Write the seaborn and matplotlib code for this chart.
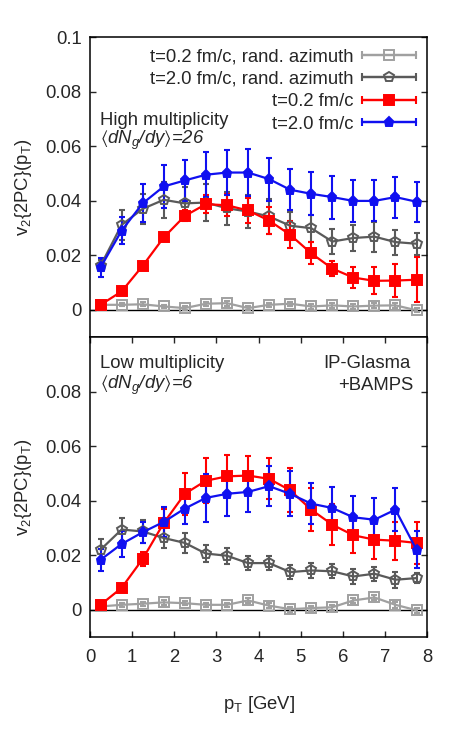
"""
v2{2PC}(pT) from IP-Glasma + BAMPS, high and low multiplicity panels.
"""

# %%
import matplotlib
matplotlib.use('Agg')
import matplotlib.pyplot as plt
from matplotlib.lines import Line2D
from matplotlib.legend_handler import HandlerLine2D
import numpy as np
import pandas as pd
import seaborn as sns

# %%
# Values
pt = [0.25, 0.75, 1.25, 1.75, 2.25, 2.75, 3.25, 3.75,
      4.25, 4.75, 5.25, 5.75, 6.25, 6.75, 7.25, 7.75]

# high multiplicity
high_rand02 = [0.0018, 0.0018, 0.0020, 0.0012, 0.0006, 0.0022, 0.0024, 0.0006,
               0.0018, 0.0022, 0.0012, 0.0016, 0.0012, 0.0015, 0.0016, -0.0002]
high_rand02_err = [0.0006, 0.0006, 0.0007, 0.0007, 0.0007, 0.0008, 0.0009, 0.0008,
                   0.0008, 0.0008, 0.0008, 0.0008, 0.0008, 0.0008, 0.0008, 0.0008]
high_rand20 = [0.0161, 0.0311, 0.0370, 0.0403, 0.0390, 0.0393, 0.0372, 0.0360,
               0.0342, 0.0308, 0.0299, 0.0250, 0.0263, 0.0268, 0.0248, 0.0242]
high_rand20_err = [0.0020, 0.0055, 0.0055, 0.0067, 0.0060, 0.0067, 0.0060, 0.0060,
                   0.0064, 0.0052, 0.0049, 0.0046, 0.0046, 0.0055, 0.0046, 0.0040]
high_t02 = [0.0018, 0.0067, 0.0161, 0.0265, 0.0344, 0.0387, 0.0383, 0.0364,
            0.0327, 0.0275, 0.0207, 0.0151, 0.0118, 0.0106, 0.0107, 0.0110]
high_t02_err = [0.0005, 0.0005, 0.0008, 0.0010, 0.0020, 0.0034, 0.0040, 0.0045,
                0.0050, 0.0049, 0.0040, 0.0026, 0.0038, 0.0049, 0.0062, 0.0083]
high_t20 = [0.0155, 0.0290, 0.0390, 0.0452, 0.0474, 0.0495, 0.0503, 0.0503,
            0.0479, 0.0440, 0.0425, 0.0413, 0.0399, 0.0399, 0.0413, 0.0396]
high_t20_err = [0.0034, 0.0049, 0.0070, 0.0079, 0.0076, 0.0082, 0.0084, 0.0085,
                0.0079, 0.0076, 0.0079, 0.0079, 0.0076, 0.0075, 0.0075, 0.0074]

# low multiplicity
low_rand02 = [0.0012, 0.0018, 0.0022, 0.0027, 0.0024, 0.0018, 0.0018, 0.0034,
              0.0015, 0.0002, 0.0006, 0.0009, 0.0034, 0.0045, 0.0018, -0.0002]
low_rand02_err = [0.0006, 0.0007, 0.0007, 0.0008, 0.0008, 0.0008, 0.0008, 0.0009,
                  0.0009, 0.0009, 0.0009, 0.0009, 0.0010, 0.0010, 0.0010, 0.0009]
low_rand20 = [0.0220, 0.0294, 0.0287, 0.0263, 0.0245, 0.0206, 0.0198, 0.0171,
              0.0171, 0.0138, 0.0144, 0.0141, 0.0122, 0.0132, 0.0110, 0.0116]
low_rand20_err = [0.0038, 0.0043, 0.0043, 0.0038, 0.0037, 0.0032, 0.0030, 0.0026,
                  0.0027, 0.0026, 0.0028, 0.0025, 0.0026, 0.0025, 0.0030, 0.0018]
low_t02 = [0.0018, 0.0080, 0.0186, 0.0318, 0.0425, 0.0473, 0.0489, 0.0492,
           0.0480, 0.0438, 0.0367, 0.0312, 0.0273, 0.0257, 0.0253, 0.0245]
low_t02_err = [0.0010, 0.0008, 0.0027, 0.0050, 0.0078, 0.0083, 0.0078, 0.0073,
               0.0075, 0.0080, 0.0080, 0.0076, 0.0066, 0.0072, 0.0070, 0.0078]
low_t20 = [0.0183, 0.0241, 0.0284, 0.0322, 0.0371, 0.0410, 0.0425, 0.0432,
           0.0453, 0.0425, 0.0389, 0.0373, 0.0339, 0.0330, 0.0367, 0.0220]
low_t20_err = [0.0040, 0.0048, 0.0039, 0.0054, 0.0058, 0.0089, 0.0081, 0.0072,
               0.0073, 0.0083, 0.0075, 0.0077, 0.0078, 0.0081, 0.0078, 0.0067]

labels = ['t=0.2 fm/c, rand. azimuth', 't=2.0 fm/c, rand. azimuth',
          't=0.2 fm/c', 't=2.0 fm/c']
colors = ['#a0a0a0', '#5a5a5a', '#ff0000', '#1010f0']
markers = ['s', 'p', 's', 'p']
filled = [False, False, True, True]
msizes = [6.5, 7, 7.5, 6.8]

# %%
sns.set_theme(style='ticks')
plt.rcParams['font.family'] = ['Liberation Sans', 'DejaVu Sans']
plt.rcParams['mathtext.fontset'] = 'custom'
plt.rcParams['mathtext.rm'] = 'Liberation Sans'
plt.rcParams['mathtext.it'] = 'Liberation Sans:italic'
plt.rcParams['mathtext.fallback'] = 'stixsans'
FS = 13.3

fig = plt.figure(figsize=(4.5, 7.5), dpi=100)
ax_top = fig.add_axes([0.2, 1 - 337 / 750, 0.749, 300 / 750])
ax_bot = fig.add_axes([0.2, 1 - 637 / 750, 0.749, 300 / 750])

YLABEL = r'v$_2${2PC}(p$_\mathrm{T}$)'


def draw_panel(ax, series):
    ax.axhline(0, color='black', lw=1.0, zorder=1)
    for (y, err), label, c, m, f, ms in zip(series, labels, colors, markers, filled, msizes):
        d = pd.DataFrame({'pt': pt, 'v2': y})
        ax.errorbar(pt, y, yerr=err, fmt='none', ecolor=c, elinewidth=1.5,
                    capsize=2.5, capthick=1.5, zorder=2)
        sns.lineplot(data=d, x='pt', y='v2', ax=ax, color=c, lw=1.6,
                     marker=m, markersize=ms, markeredgewidth=1.4,
                     markerfacecolor=c if f else 'none', markeredgecolor=c,
                     zorder=3, legend=False)
    ax.set_xlim(0, 8)
    ax.set_ylim(-0.01, 0.1)
    ax.set_xlabel('')
    ax.set_ylabel(YLABEL, fontsize=FS, labelpad=8)
    for s in ax.spines.values():
        s.set_linewidth(1.1)
        s.set_color('black')
    ax.tick_params(axis='y', direction='in', left=True, right=True, length=4.5,
                   width=1, labelsize=FS, pad=6)
    ax.tick_params(axis='x', direction='in', length=4.5, width=1, labelsize=FS, pad=9)


draw_panel(ax_top, [(high_rand02, high_rand02_err), (high_rand20, high_rand20_err),
                    (high_t02, high_t02_err), (high_t20, high_t20_err)])
draw_panel(ax_bot, [(low_rand02, low_rand02_err), (low_rand20, low_rand20_err),
                    (low_t02, low_t02_err), (low_t20, low_t20_err)])

ax_top.set_yticks([0, 0.02, 0.04, 0.06, 0.08, 0.1])
ax_top.set_yticklabels(['0', '0.02', '0.04', '0.06', '0.08', '0.1'])
ax_top.tick_params(axis='x', bottom=False, top=False, labelbottom=False)

ax_bot.set_yticks([0, 0.02, 0.04, 0.06, 0.08])
ax_bot.set_yticklabels(['0', '0.02', '0.04', '0.06', '0.08'])
ax_bot.set_xticks(range(0, 9))
ax_bot.tick_params(axis='x', bottom=True, top=True)
ax_bot.set_xlabel(r'p$_\mathrm{T}$ [GeV]', fontsize=FS, labelpad=20)

# legend: line with end caps plus marker in the middle
handles, hmap = [], {}
for c, m, f, ms in zip(colors, markers, filled, msizes):
    caps = Line2D([], [], color=c, lw=1.6, marker='|', markersize=6, markeredgewidth=1.5)
    mark = Line2D([], [], color=c, lw=1.6, marker=m, markersize=ms, markeredgewidth=1.4,
                  markerfacecolor=c if f else 'none', markeredgecolor=c)
    hmap[caps] = HandlerLine2D(numpoints=2, marker_pad=0)
    hmap[mark] = HandlerLine2D(numpoints=1)
    handles.append((caps, mark))
ax_top.legend(handles, labels, handler_map=hmap, loc='upper right', markerfirst=False,
              frameon=False, fontsize=FS, handlelength=2.9, handletextpad=0.5,
              labelspacing=0.3, borderaxespad=0.4, borderpad=0.2)

ax_top.text(0.03, 0.723, 'High multiplicity', transform=ax_top.transAxes,
            fontsize=FS, ha='left', va='center')
ax_top.text(0.03, 0.657, r'$\langle$dN$_g$/dy$\rangle$=26', transform=ax_top.transAxes,
            fontsize=FS, ha='left', va='center', style='italic')
ax_bot.text(0.03, 0.913, 'Low multiplicity', transform=ax_bot.transAxes,
            fontsize=FS, ha='left', va='center')
ax_bot.text(0.03, 0.84, r'$\langle$dN$_g$/dy$\rangle$=6', transform=ax_bot.transAxes,
            fontsize=FS, ha='left', va='center', style='italic')
ax_bot.text(0.95, 0.913, 'IP-Glasma', transform=ax_bot.transAxes,
            fontsize=FS, ha='right', va='center')
ax_bot.text(0.96, 0.84, '+BAMPS', transform=ax_bot.transAxes,
            fontsize=FS, ha='right', va='center')

fig.savefig('out.png', dpi=100)
